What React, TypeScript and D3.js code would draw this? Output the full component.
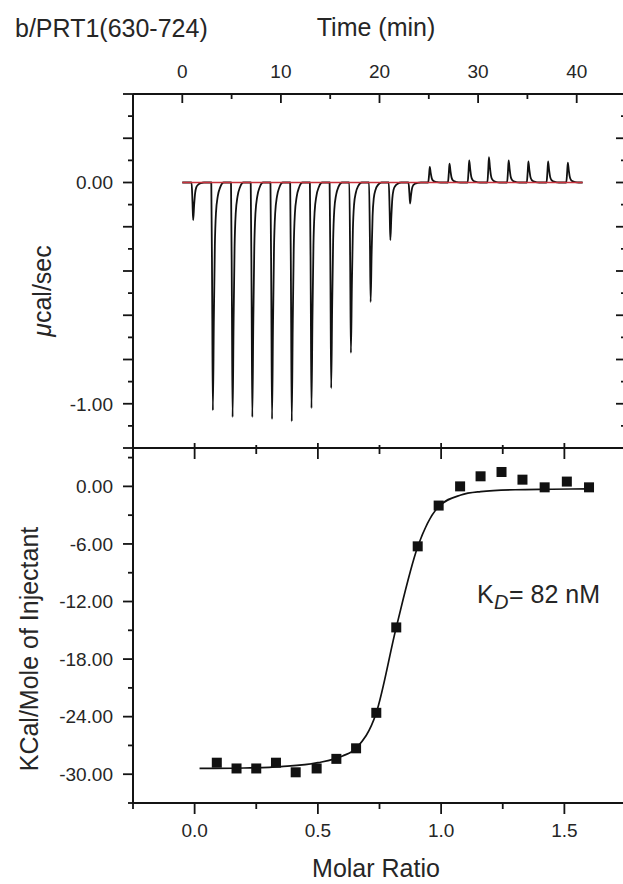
import React from "react";
import * as d3 from "d3";

// ---------- DATA ----------
// Raw thermogram: injection times (min) and peak heights (µcal/sec)
const injectionTimes = [1, 3, 5, 7, 9, 11, 13, 15, 17, 19, 21, 23, 25, 27, 29, 31, 33, 35, 37, 39];
const peakHeights = [-0.17, -1.03, -1.06, -1.06, -1.07, -1.08, -1.02, -0.93, -0.77, -0.54, -0.26, -0.095, 0.07, 0.085, 0.1, 0.115, 0.1, 0.095, 0.095, 0.09];
const traceStart = 0;
const traceEnd = 40.6;

// Integrated heats
const molarRatio = [0.09, 0.17, 0.25, 0.33, 0.41, 0.495, 0.575, 0.655, 0.737, 0.818, 0.905, 0.99, 1.077, 1.16, 1.245, 1.33, 1.42, 1.51, 1.6];
const heat = [-28.8, -29.4, -29.4, -28.8, -29.8, -29.4, -28.4, -27.3, -23.6, -14.7, -6.25, -2.0, 0.0, 1.05, 1.5, 0.7, -0.1, 0.5, -0.1];

// Fitted curve
const fitRatio = [0.02, 0.2, 0.35, 0.5, 0.6, 0.655, 0.737, 0.818, 0.905, 0.99, 1.08, 1.16, 1.3, 1.45, 1.6];
const fitHeat = [-29.4, -29.35, -29.2, -28.8, -28.1, -27.3, -23.6, -14.7, -6.3, -2.1, -0.9, -0.55, -0.35, -0.3, -0.25];

// Ticks
const timeMajor = [0, 10, 20, 30, 40];
const timeMinor = [5, 15, 25, 35];
const topYMajor = [0.4, 0.2, 0, -0.2, -0.4, -0.6, -0.8, -1.0, -1.2];
const topYMinor = [0.3, 0.1, -0.1, -0.3, -0.5, -0.7, -0.9, -1.1];
const topYLabels = [0, -1];
const botYMajor = [0, -6, -12, -18, -24, -30];
const botYMinor = [3, -3, -9, -15, -21, -27, -33];
const molarMajor = [0, 0.5, 1.0, 1.5];
const molarMinor = [-0.25, 0.25, 0.75, 1.25];

// Peak shape template: [time offset (min), fraction of peak height]
const peakShape: [number, number][] = [
  [-0.06, 0], [0.03, 0.5], [0.1, 1], [0.2, 0.6], [0.3, 0.28], [0.42, 0.13],
  [0.6, 0.06], [0.85, 0.02], [1.2, 0],
];

// ---------- LAYOUT ----------
const L = 133, R = 626, T = 94, MID = 448, B = 803;
const FONT = "'Liberation Sans', Arial, Helvetica, sans-serif";
const INK = "#141414";
const TXT = "#262626";

const locale = d3.formatLocale({ decimal: ".", thousands: ",", grouping: [3], currency: ["", ""], minus: "-" });

export default function App() {
  const xTime = d3.scaleLinear().domain([-5, 45]).range([L, R]);
  const xMol = d3.scaleLinear().domain([-0.25, 1.75]).range([L, R]);
  const yTop = d3.scaleLinear().domain([-1.2, 0.4]).range([MID, T]);
  const yBot = d3.scaleLinear().domain([-33, 4]).range([B, MID]);

  const tracePts: [number, number][] = [[traceStart, 0]];
  injectionTimes.forEach((t, i) => {
    peakShape.forEach(([dt, f]) => tracePts.push([t + dt, peakHeights[i] * f]));
  });
  tracePts.push([traceEnd, 0]);

  const traceLine = d3
    .line<[number, number]>()
    .x((d) => xTime(d[0]))
    .y((d) => yTop(d[1]))
    .curve(d3.curveMonotoneX);

  const fitLine = d3
    .line<number>()
    .x((d) => xMol(d))
    .y((_, i) => yBot(fitHeat[i]))
    .curve(d3.curveMonotoneX);

  const sw = 1.8;
  const fmt2 = locale.format(".2f");
  const fmt1 = locale.format(".1f");
  const sq = 10;

  return (
    <div style={{ position: "absolute", left: 0, top: 0 }}>
      <svg width={623} height={884} style={{ display: "block", background: "#fff" }} fontFamily={FONT}>
        {/* Titles */}
        <text x={15} y={37} fontSize={25} fill={TXT}>b/PRT1(630-724)</text>
        <text x={376} y={36} fontSize={25} fill={TXT} textAnchor="middle">Time (min)</text>

        {/* Top time axis */}
        {timeMajor.map((t) => (
          <g key={"tm" + t}>
            <line x1={xTime(t)} x2={xTime(t)} y1={T} y2={T + 9} stroke={INK} strokeWidth={sw} />
            <text x={xTime(t)} y={78} fontSize={19} fill={TXT} textAnchor="middle">{t}</text>
          </g>
        ))}
        {timeMinor.map((t) => (
          <line key={"tn" + t} x1={xTime(t)} x2={xTime(t)} y1={T} y2={T + 5} stroke={INK} strokeWidth={sw} />
        ))}

        {/* Top panel left/right ticks */}
        {topYMajor.map((v) => (
          <g key={"ty" + v}>
            <line x1={L - 10} x2={L} y1={yTop(v)} y2={yTop(v)} stroke={INK} strokeWidth={sw} />
            <line x1={R - 10} x2={R} y1={yTop(v)} y2={yTop(v)} stroke={INK} strokeWidth={sw} />
          </g>
        ))}
        {topYMinor.map((v) => (
          <g key={"tyn" + v}>
            <line x1={L - 5} x2={L} y1={yTop(v)} y2={yTop(v)} stroke={INK} strokeWidth={sw} />
            <line x1={R - 5} x2={R} y1={yTop(v)} y2={yTop(v)} stroke={INK} strokeWidth={sw} />
          </g>
        ))}
        {topYLabels.map((v) => (
          <text key={"tyl" + v} x={113} y={yTop(v)} dy="0.36em" fontSize={19} fill={TXT} textAnchor="end">{fmt2(v)}</text>
        ))}

        {/* Middle line ticks (molar positions) and bottom axis */}
        {molarMajor.map((m) => (
          <g key={"mm" + m}>
            <line x1={xMol(m)} x2={xMol(m)} y1={MID - 5} y2={MID + 11} stroke={INK} strokeWidth={sw} />
            <line x1={xMol(m)} x2={xMol(m)} y1={B} y2={B + 11} stroke={INK} strokeWidth={sw} />
            <text x={xMol(m)} y={837} fontSize={19} fill={TXT} textAnchor="middle">{fmt1(m)}</text>
          </g>
        ))}
        {molarMinor.map((m) => (
          <g key={"mn" + m}>
            <line x1={xMol(m)} x2={xMol(m)} y1={MID - 3} y2={MID + 6} stroke={INK} strokeWidth={sw} />
            <line x1={xMol(m)} x2={xMol(m)} y1={B} y2={B + 6} stroke={INK} strokeWidth={sw} />
          </g>
        ))}

        {/* Bottom panel left ticks */}
        {botYMajor.map((v) => (
          <g key={"by" + v}>
            <line x1={L - 10} x2={L} y1={yBot(v)} y2={yBot(v)} stroke={INK} strokeWidth={sw} />
            <text x={113} y={yBot(v)} dy="0.36em" fontSize={19} fill={TXT} textAnchor="end">{fmt2(v)}</text>
          </g>
        ))}
        {botYMinor.map((v) => (
          <line key={"byn" + v} x1={L - 5} x2={L} y1={yBot(v)} y2={yBot(v)} stroke={INK} strokeWidth={sw} />
        ))}

        {/* Frames */}
        <line x1={L} x2={623} y1={T} y2={T} stroke={INK} strokeWidth={2} />
        <line x1={L} x2={623} y1={MID} y2={MID} stroke={INK} strokeWidth={2} />
        <line x1={L} x2={623} y1={B} y2={B} stroke={INK} strokeWidth={2} />
        <line x1={L} x2={L} y1={T} y2={B} stroke={INK} strokeWidth={2} />
        <line x1={R} x2={R} y1={T} y2={B} stroke={INK} strokeWidth={2} />

        {/* Thermogram */}
        <path d={traceLine(tracePts) || ""} fill="none" stroke="#111" strokeWidth={1.8} strokeLinejoin="round" />
        <line x1={xTime(traceStart)} x2={xTime(traceEnd)} y1={yTop(0)} y2={yTop(0)} stroke="#c8323c" strokeWidth={1.7} />

        {/* Fit + points */}
        <path d={fitLine(fitRatio) || ""} fill="none" stroke="#111" strokeWidth={1.7} />
        {molarRatio.map((m, i) => (
          <rect key={"pt" + i} x={xMol(m) - sq / 2} y={yBot(heat[i]) - sq / 2} width={sq} height={sq} fill="#111" />
        ))}

        {/* KD annotation */}
        <text x={477} y={603} fontSize={25} fill={TXT}>
          K
          <tspan x={494} dy={6} fontSize={20} fontStyle="italic">D</tspan>
          <tspan x={509} dy={-6}>= 82 nM</tspan>
        </text>

        {/* Axis titles */}
        <text transform="translate(51,291) rotate(-90)" fontSize={25} fill={TXT} textAnchor="middle">
          <tspan fontStyle="italic">μ</tspan>cal/sec
        </text>
        <text transform="translate(38,649) rotate(-90)" fontSize={25} fill={TXT} textAnchor="middle">KCal/Mole of Injectant</text>
        <text x={376} y={877} fontSize={25} fill={TXT} textAnchor="middle">Molar Ratio</text>
      </svg>
    </div>
  );
}
